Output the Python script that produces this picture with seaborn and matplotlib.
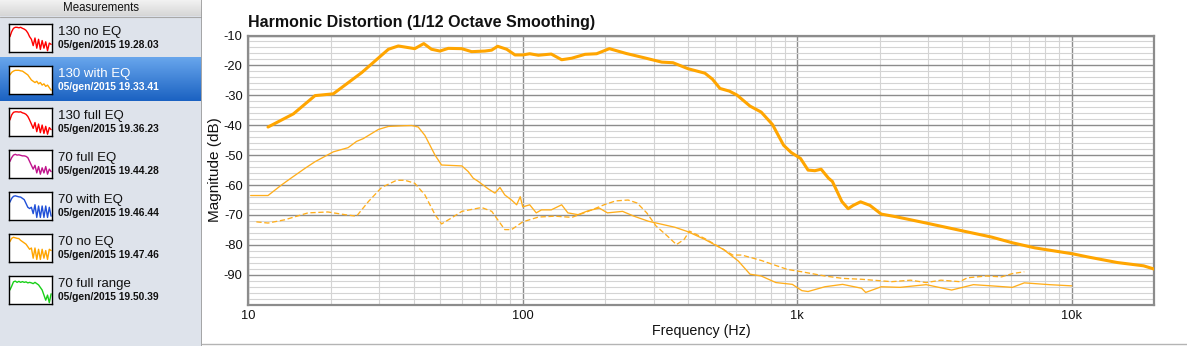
import numpy as np
import pandas as pd
import matplotlib
matplotlib.use("Agg")
import matplotlib.pyplot as plt
from matplotlib.patches import Rectangle
from matplotlib.ticker import FixedLocator, NullFormatter
import seaborn as sns

# ---------------- data ----------------
# Thick curve (fundamental)
fund_freq = [11.8, 14.6, 17.5, 20.4, 25.9, 32.4, 35.2, 40.4, 43.6, 46.5, 49.9, 53.5, 59.9, 65.1,
             72.8, 77, 81, 87.4, 93.7, 100, 106, 114, 127, 138.6, 150.7, 168.5, 185.8, 206.8,
             238, 278.6, 321, 352.7, 400, 461, 491, 523, 566, 603, 673, 739, 813, 892, 950,
             1028, 1095, 1160, 1222, 1300, 1343, 1454, 1533, 1600, 1701, 1841, 2023, 2292, 2951,
             4040, 5112, 6080, 7340, 10100, 11400, 14660, 18280, 20000]
fund_db = [-40.6, -36.2, -30.1, -29.5, -22.4, -14.6, -13.5, -14.4, -12.7, -14.6, -15.2, -14.3, -14.4, -15.4,
           -15.2, -14.9, -13.6, -14.6, -16.5, -16.5, -16.1, -16.6, -16.2, -18.1, -17.6, -16.3, -16.1, -14.4,
           -16.0, -17.5, -18.9, -19.1, -21.1, -22.6, -24.6, -27.7, -28.6, -29.9, -33.6, -35.6, -39.8, -46.7, -49.1,
           -51.1, -55.0, -55.2, -54.7, -57.7, -58.8, -65.5, -67.9, -66.8, -65.6, -66.8, -69.7, -70.6, -72.7,
           -75.4, -77.4, -79.3, -81.0, -83.0, -84.0, -85.9, -87.0, -88.1]

# Thin solid curve (2nd harmonic)
h2_freq = [10.2, 11.8, 13.2, 14.3, 16.1, 17.5, 20.4, 23.1, 24.8, 26.2, 29.8, 32.4, 36.2, 39.4, 41.6,
           44, 47.9, 50.6, 60, 63.3, 66, 68.9, 74.9, 79.2, 82.6, 86, 91, 95, 97.9, 100, 106, 112,
           117, 127, 138.6, 146, 159, 173, 190, 203.5, 231, 254, 287, 358, 400, 461, 538, 610,
           673, 739, 836, 960, 1040, 1095, 1261, 1463, 1716, 1776, 2024, 2370, 2950, 3652, 4384,
           5100, 6080, 6720, 8300, 10000]
h2_db = [-63.5, -63.5, -60.0, -57.7, -54.4, -52.2, -48.9, -47.5, -45.4, -44.5, -41.4, -40.4, -40.2, -40.1, -40.6,
         -43.4, -50.0, -53.3, -53.6, -55.5, -57.7, -58.8, -61.3, -62.7, -60.8, -63.3, -65.0, -66.6, -63.9, -67.3, -66.6, -69.3,
         -68.3, -68.3, -66.6, -69.3, -69.9, -68.6, -67.7, -69.3, -68.8, -70.4, -72.1, -74.1, -75.6, -78.2, -81.5, -85.4,
         -89.8, -90.4, -92.6, -93.2, -95.3, -95.6, -94.0, -93.2, -94.5, -95.9, -94.0, -94.2, -93.3, -95.1, -93.3,
         -93.7, -94.2, -92.7, -93.3, -93.7]

# Thin dashed curve (3rd harmonic)
h3_freq = [10.7, 11.8, 13.6, 16.5, 19.5, 22.5, 24.8, 27.4, 30.6, 34.7, 37.2, 40.4, 44, 47.9, 50.6,
           55, 60, 70.8, 77.1, 86, 91, 100, 114, 131, 151, 173, 199, 218, 242, 261, 283, 306,
           336, 363, 387, 405, 461, 538, 582, 628, 739, 920, 1040, 1261, 1463, 1716, 2210, 2590,
           2950, 3340, 3910, 4170, 4890, 5550, 6080, 6720]
h3_db = [-72.3, -72.7, -71.6, -69.3, -69.0, -69.9, -70.4, -65.5, -60.8, -58.4, -58.4, -59.4, -63.3, -69.9, -73.0,
         -71.0, -68.8, -67.5, -68.8, -74.9, -74.9, -72.3, -70.7, -70.4, -70.8, -68.8, -66.5, -65.3, -65.0, -66.0, -69.3, -73.7,
         -77.0, -79.9, -78.2, -75.4, -77.9, -81.5, -83.4, -83.4, -85.2, -88.2, -89.0, -90.4, -91.2, -91.5, -92.3, -91.8,
         -92.6, -91.8, -92.3, -91.0, -90.4, -90.7, -89.6, -89.0]

x_ticks = [10, 100, 1000, 10000]
x_tick_labels = ["10", "100", "1k", "10k"]
y_ticks = [-90, -80, -70, -60, -50, -40, -30, -20, -10]
y_tick_labels = ["-90", "-80", "-70", "-60", "-50", "-40", "-30", "-20", "-10"]

# Measurement list
meas_names = ["130 no EQ", "130 with EQ", "130 full EQ", "70 full EQ", "70 with EQ", "70 no EQ", "70 full range"]
meas_dates = ["05/gen/2015 19.28.03", "05/gen/2015 19.33.41", "05/gen/2015 19.36.23", "05/gen/2015 19.44.28",
              "05/gen/2015 19.46.44", "05/gen/2015 19.47.46", "05/gen/2015 19.50.39"]
meas_colors = ["#ff0000", "#ffa500", "#ff0000", "#c0148c", "#2050d8", "#ffa500", "#18d018"]
selected_index = 1
thumb_a = [0.55, 0.75, 0.88, 0.92, 0.92, 0.90, 0.92, 0.88, 0.85, 0.80, 0.70, 0.55, 0.45, 0.20, 0.50, 0.10, 0.45, 0.05, 0.40, 0.10, 0.35, 0.00, 0.30, 0.25]
thumb_b = [0.70, 0.80, 0.85, 0.88, 0.88, 0.88, 0.86, 0.85, 0.80, 0.75, 0.70, 0.60, 0.50, 0.45, 0.40, 0.45, 0.35, 0.40, 0.30, 0.35, 0.25, 0.30, 0.20, 0.10]
thumb_c = [0.58, 0.78, 0.88, 0.90, 0.90, 0.89, 0.90, 0.86, 0.84, 0.80, 0.72, 0.58, 0.42, 0.25, 0.48, 0.12, 0.42, 0.08, 0.38, 0.05, 0.33, 0.02, 0.28, 0.20]
thumb_d = [0.60, 0.75, 0.85, 0.88, 0.85, 0.86, 0.84, 0.82, 0.82, 0.80, 0.75, 0.60, 0.45, 0.30, 0.45, 0.15, 0.40, 0.10, 0.35, 0.15, 0.40, 0.10, 0.30, 0.20]
thumb_e = [0.65, 0.80, 0.88, 0.90, 0.88, 0.86, 0.85, 0.80, 0.75, 0.60, 0.45, 0.40, 0.45, 0.20, 0.55, 0.05, 0.50, 0.05, 0.50, 0.05, 0.50, 0.05, 0.45, 0.10]
thumb_f = [0.75, 0.88, 0.92, 0.90, 0.88, 0.87, 0.80, 0.75, 0.70, 0.65, 0.55, 0.45, 0.50, 0.10, 0.50, 0.05, 0.45, 0.05, 0.45, 0.10, 0.40, 0.05, 0.45, 0.40]
thumb_g = [0.50, 0.65, 0.82, 0.85, 0.80, 0.84, 0.80, 0.83, 0.80, 0.82, 0.78, 0.80, 0.78, 0.75, 0.80, 0.75, 0.70, 0.60, 0.50, 0.30, 0.10, 0.30, 0.00, 0.35]
thumb_curves = [thumb_a, thumb_b, thumb_c, thumb_d, thumb_e, thumb_f, thumb_g]

# ---------------- figure ----------------
W, H = 1187, 346
sns.set_theme(style="white")
plt.rcParams["font.family"] = ["Liberation Sans", "DejaVu Sans"]

fig = plt.figure(figsize=(W / 100, H / 100), dpi=100)
fig.patch.set_facecolor("white")

# ---- left panel ----
pw = 202
pan = fig.add_axes([0, 0, pw / W, 1])
pan.axis("off")
pan.add_patch(Rectangle((0, 0), pw, H, facecolor="#dee3eb", edgecolor="none", zorder=0))
# header
hdr = np.linspace(0, 1, 32).reshape(-1, 1)
pan.imshow(hdr, extent=(0, pw, 16, 0), cmap=matplotlib.colors.LinearSegmentedColormap.from_list("h", ["#f2f2f2", "#d6d6d6"]),
           aspect="auto", zorder=1)
pan.plot([0, pw], [16.5, 16.5], color="#a8a8a8", lw=0.8, zorder=2)
pan.text(pw / 2, 8, "Measurements", ha="center", va="center", fontsize=8.3, color="#111111", zorder=3)
pan.plot([pw - 0.5, pw - 0.5], [0, H], color="#9a9a9a", lw=1.2, zorder=3)

pitch = 42
for i, (nm, dt, col, curve) in enumerate(zip(meas_names, meas_dates, meas_colors, thumb_curves)):
    top = 24 + i * pitch
    tc = "#111111"
    if i == selected_index:
        grad = np.linspace(0, 1, 64).reshape(-1, 1)
        pan.imshow(grad, extent=(0, pw - 1, top + 35, top - 9),
                   cmap=matplotlib.colors.LinearSegmentedColormap.from_list("s", ["#68a6ec", "#1b62c2"]),
                   aspect="auto", zorder=1)
        tc = "white"
    pan.text(58, top + 7.5, nm, ha="left", va="center", fontsize=9.5, color=tc, zorder=4)
    pan.text(58, top + 20.5, dt, ha="left", va="center", fontsize=7.4, color=tc, fontweight="bold", zorder=4)
    tax = fig.add_axes([9 / W, 1 - (top + 28) / H, 43 / W, 28 / H])
    tdf = pd.DataFrame({"x": np.arange(len(curve)), "y": curve})
    sns.lineplot(data=tdf, x="x", y="y", ax=tax, color=col, lw=1.0)
    tax.set_xlim(-0.5, len(curve) - 0.5)
    tax.set_ylim(-0.05, 1.05)
    tax.set_xticks([]); tax.set_yticks([])
    tax.set_xlabel(""); tax.set_ylabel("")
    tax.set_facecolor("white")
    for s in tax.spines.values():
        s.set_visible(True)
        s.set_color("black")
        s.set_linewidth(1.0)
pan.set_xlim(0, pw)
pan.set_ylim(H, 0)

# ---- main chart ----
L, R, T, B = 248.3, 1154.3, 35.5, 304.7
ax = fig.add_axes([L / W, 1 - B / H, (R - L) / W, (B - T) / H])
ax.set_facecolor("white")

orange = "#ffa500"
thin = "#ffae1c"
df_f = pd.DataFrame({"Frequency": fund_freq, "dB": fund_db})
df_2 = pd.DataFrame({"Frequency": h2_freq, "dB": h2_db})
df_3 = pd.DataFrame({"Frequency": h3_freq, "dB": h3_db})
sns.lineplot(data=df_2, x="Frequency", y="dB", ax=ax, color=thin, lw=0.95, zorder=4)
sns.lineplot(data=df_3, x="Frequency", y="dB", ax=ax, color=thin, lw=0.95, linestyle=(0, (4, 2)), zorder=4)
sns.lineplot(data=df_f, x="Frequency", y="dB", ax=ax, color=orange, lw=2.2, zorder=5)

ax.set_xscale("log")
ax.set_xlim(10, 20000)
ax.set_ylim(-100, -10)
ax.xaxis.set_major_locator(FixedLocator(x_ticks))
ax.set_xticklabels(x_tick_labels)
minor_x = [m * d for d in [10, 100, 1000, 10000] for m in range(2, 10) if m * d < 20000]
ax.xaxis.set_minor_locator(FixedLocator(minor_x))
ax.xaxis.set_minor_formatter(NullFormatter())
ax.yaxis.set_major_locator(FixedLocator(y_ticks))
ax.set_yticklabels(y_tick_labels)
ax.yaxis.set_minor_locator(FixedLocator(list(range(-98, -10, 2))))
ax.grid(True, which="major", color="#8c8c8c", lw=1.0, zorder=1)
ax.grid(True, which="minor", color="#d4d4d4", lw=0.8, zorder=0)
ax.set_axisbelow(True)
ax.tick_params(which="both", length=0, labelsize=9.3, colors="#111111", pad=4)
for s in ax.spines.values():
    s.set_color("#8c8c8c")
    s.set_linewidth(1.6)
ax.set_xlabel("Frequency (Hz)", fontsize=10.3, color="#111111", labelpad=1)
ax.set_ylabel("Magnitude (dB)", fontsize=11, color="#111111", labelpad=1)
fig.text(L / W, 1 - 22 / H, "Harmonic Distortion (1/12 Octave Smoothing)", ha="left", va="center",
         fontsize=11.5, fontweight="bold", color="#111111")

# bottom separator line
fig.add_artist(plt.Line2D([pw / W, 1], [1 - 344 / H, 1 - 344 / H], color="#b4b4b4", lw=1.0))

fig.savefig("out.png", dpi=100)
